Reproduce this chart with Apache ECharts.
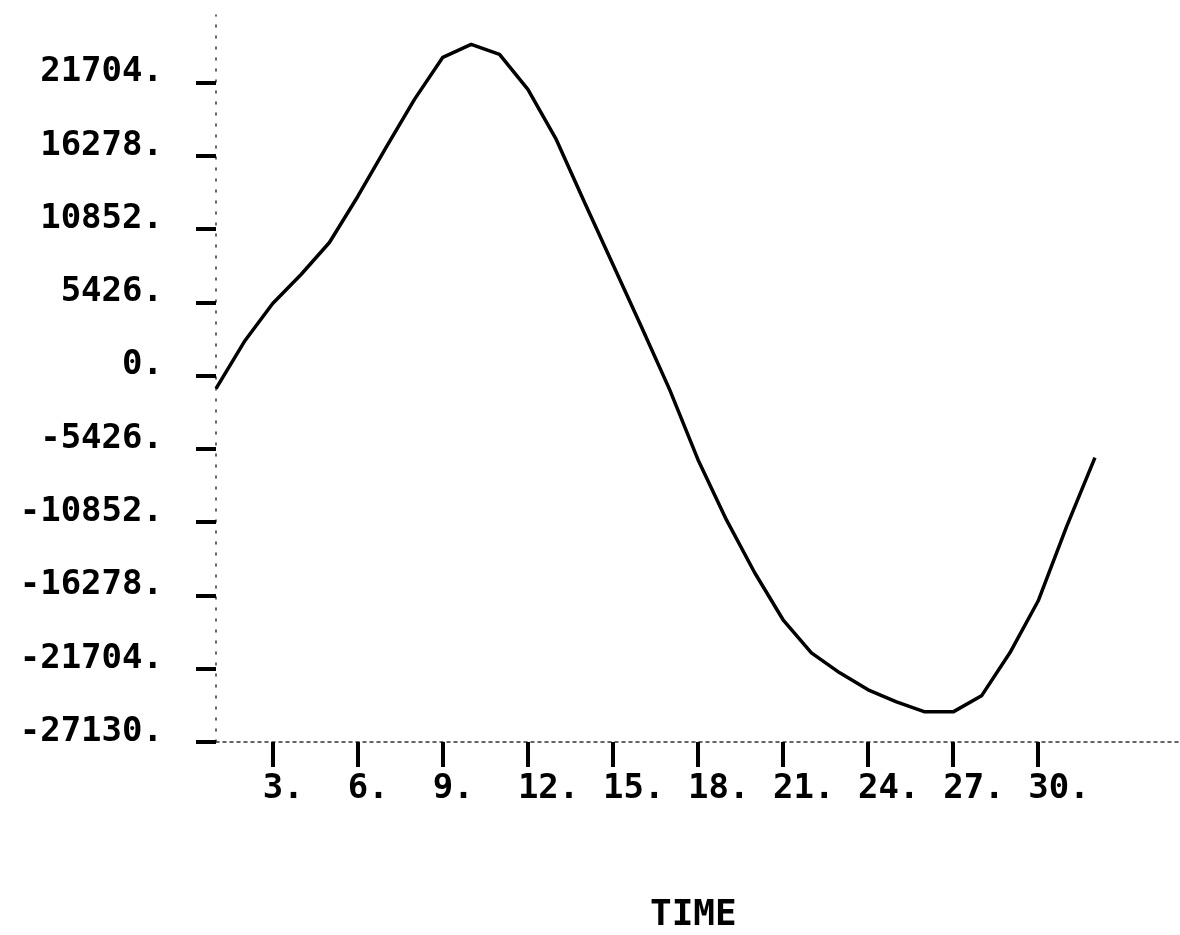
<!DOCTYPE html>
<html>
<head>
<meta charset="utf-8">
<script src="https://cdn.jsdelivr.net/npm/echarts@6/dist/echarts.min.js"></script>
<style>
html,body{margin:0;padding:0;background:#fff;}
#chart{width:1180px;height:935px;}
</style>
</head>
<body>
<div id="chart"></div>
<script>
// Data
const timeValues = [1,2,3,4,5,6,7,8,9,10,11,12,13,14,15,16,17,18,19,20,21,22,23,24,25,26,27,28,29,30,31,32];
const seriesValues = [-963,2519,5335,7484,9855,13264,16895,20452,23564,24527,23786,21193,17488,12819,8225,3631,-1037,-6224,-10670,-14598,-18080,-20526,-22008,-23267,-24157,-24898,-24898,-23712,-20526,-16673,-11189,-6076];
const yTickValues = [-27130,-21704,-16278,-10852,-5426,0,5426,10852,16278,21704];
const xTickValues = [3,6,9,12,15,18,21,24,27,30];
const xAxisTitle = 'TIME';

const FONT = '"DejaVu Sans Mono", "Liberation Mono", monospace';
const chart = echarts.init(document.getElementById('chart'), null, {renderer:'canvas'});
const lineData = timeValues.map((t,i)=>[t, seriesValues[i]]);

chart.setOption({
  animation:false,
  backgroundColor:'#ffffff',
  grid:{left:216, top:15, width:967, height:727},
  xAxis:{
    type:'value', min:1, max:35,
    axisLine:{show:true, onZero:false, lineStyle:{color:'#333', width:1.5, type:[3,4]}},
    axisTick:{show:true, customValues:xTickValues, length:25, inside:false, lineStyle:{color:'#000', width:4}},
    axisLabel:{show:true, customValues:xTickValues, formatter:v=>v+'.', align:'left', padding:[0,0,0,-10],
      margin:30, color:'#000', fontFamily:FONT, fontWeight:'bold', fontSize:34},
    splitLine:{show:false}
  },
  yAxis:{
    type:'value', min:-27130, max:26700,
    axisLine:{show:true, onZero:false, lineStyle:{color:'#333', width:1.5, type:[2,9]}},
    axisTick:{show:true, customValues:yTickValues, length:20, inside:false, lineStyle:{color:'#000', width:4}},
    axisLabel:{show:true, customValues:yTickValues, formatter:v=>v+'.', margin:53, verticalAlign:'bottom', lineHeight:30,
      padding:[0,0,-5,0],
      color:'#000', fontFamily:FONT, fontWeight:'bold', fontSize:34},
    splitLine:{show:false}
  },
  graphic:[{
    type:'text', left:650, top:898,
    style:{text:xAxisTitle, fill:'#000', font:'bold 36px ' + FONT}
  }],
  series:[{
    type:'line', data:lineData, showSymbol:false, smooth:false,
    lineStyle:{color:'#000', width:3.5}
  }]
});
</script>
</body>
</html>
